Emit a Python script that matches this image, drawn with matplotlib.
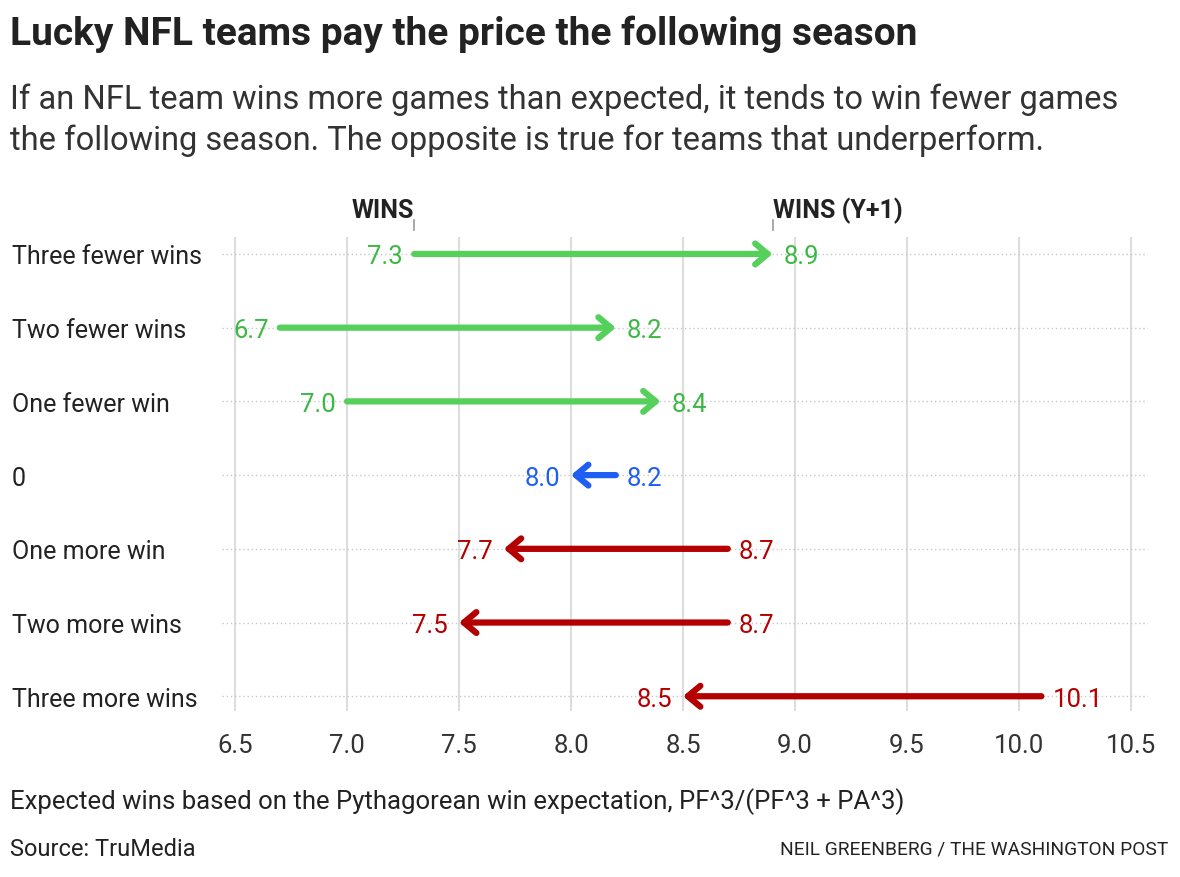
import matplotlib.pyplot as plt
import matplotlib.transforms as mtransforms

plt.rcParams['font.family'] = ['Roboto', 'DejaVu Sans']

rows = ['Three fewer wins', 'Two fewer wins', 'One fewer win', '0',
        'One more win', 'Two more wins', 'Three more wins']
wins = [7.3, 6.7, 7.0, 8.2, 8.7, 8.7, 10.1]
wins_next = [8.9, 8.2, 8.4, 8.0, 7.7, 7.5, 8.5]
colors = ['#55d05a', '#55d05a', '#55d05a', '#1f5ef2', '#b40000', '#b40000', '#b40000']
text_colors = ['#3cb944', '#3cb944', '#3cb944', '#1f5ef2', '#b40000', '#b40000', '#b40000']
xticks = [6.5, 7.0, 7.5, 8.0, 8.5, 9.0, 9.5, 10.0, 10.5]

fig = plt.figure(figsize=(11.8, 8.78), dpi=100)
ax = fig.add_axes([222 / 1180, 1 - 712 / 878, (1148 - 222) / 1180, (712 - 238) / 878])

ax.set_xlim(6.442, 10.576)
ax.set_ylim(6.2, -0.23)

# grid
for x in xticks:
    ax.axvline(x, color='#dddddd', lw=1.5, zorder=0)
for i in range(len(rows)):
    ax.axhline(i, color='#c8c8c8', lw=1, ls=(0, (1, 2)), zorder=0)

for i, (a, b) in enumerate(zip(wins, wins_next)):
    ax.annotate('', xy=(b, i), xytext=(a, i),
                arrowprops=dict(arrowstyle='->,head_length=0.9,head_width=0.75',
                                lw=4.5, color=colors[i], capstyle='round',
                                joinstyle='round', shrinkA=0, shrinkB=0))
    lo, hi = min(a, b), max(a, b)
    ax.text(lo - 0.05, i, f'{lo:.1f}', ha='right', va='center_baseline',
            fontsize=18.5, color=text_colors[i])
    ax.text(hi + 0.05, i, f'{hi:.1f}', ha='left', va='center_baseline',
            fontsize=18.5, color=text_colors[i])

ax.set_xticks(xticks)
ax.set_xticklabels([f'{x:.1f}' for x in xticks])
ax.tick_params(axis='x', length=0, labelsize=18.5, labelcolor='#333333', pad=16)
ax.set_yticks([])
for s in ax.spines.values():
    s.set_visible(False)

# row labels
row_tf = mtransforms.blended_transform_factory(fig.transFigure, ax.transData)
for i, r in enumerate(rows):
    ax.text(12 / 1180, i, r, transform=row_tf, fontsize=18,
            color='#222222', va='center_baseline', ha='left')

# column headers
ax.plot([wins[0], wins[0]], [-0.46, -0.32], color='#999999', lw=1.2, clip_on=False)
ax.plot([wins_next[0], wins_next[0]], [-0.46, -0.32], color='#999999', lw=1.2, clip_on=False)
ax.text(wins[0], -0.6, 'WINS', ha='right', va='center', fontsize=18,
        fontweight='bold', color='#222222')
ax.text(wins_next[0], -0.6, 'WINS (Y+1)', ha='left', va='center', fontsize=18,
        fontweight='bold', color='#222222')

fig.text(10 / 1180, 1 - 34 / 878, 'Lucky NFL teams pay the price the following season',
         fontsize=28, fontweight='bold', color='#222222', va='center')
fig.text(10 / 1180, 1 - 120 / 878,
         'If an NFL team wins more games than expected, it tends to win fewer games\n'
         'the following season. The opposite is true for teams that underperform.',
         fontsize=23.5, color='#333333', va='center', linespacing=1.32)
fig.text(10 / 1180, 1 - 802 / 878,
         'Expected wins based on the Pythagorean win expectation, PF^3/(PF^3 + PA^3)',
         fontsize=18.5, color='#222222', va='center')
fig.text(10 / 1180, 1 - 850 / 878, 'Source: TruMedia', fontsize=17,
         color='#222222', va='center')
fig.text(1168 / 1180, 1 - 850 / 878, 'NEIL GREENBERG / THE WASHINGTON POST',
         fontsize=13.8, color='#222222', va='center', ha='right')

fig.savefig('out.png', dpi=100)
